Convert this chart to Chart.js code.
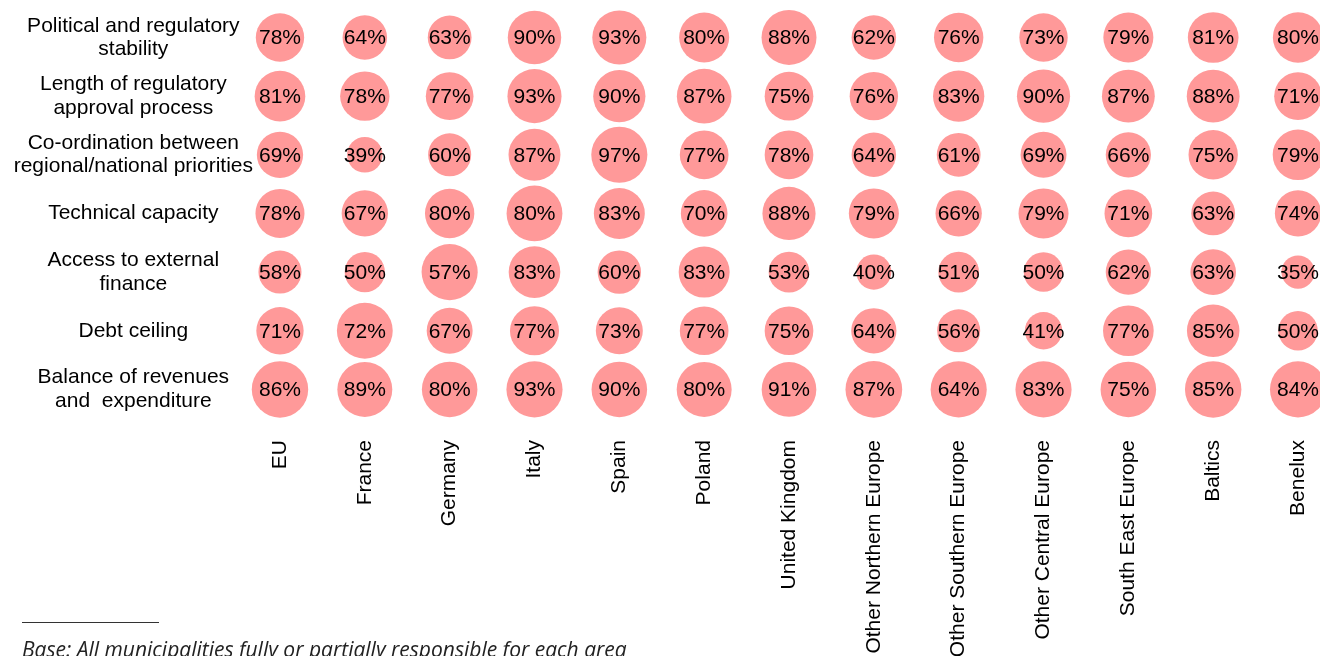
<!DOCTYPE html>
<html>
<head>
<meta charset="utf-8">
<title>Factors by region</title>
<script src="https://cdn.jsdelivr.net/npm/chart.js@4.4.1/dist/chart.umd.min.js"></script>
<style>
  html, body { margin: 0; padding: 0; background: #fff; overflow: hidden; }
  #wrap { position: relative; width: 1320px; height: 656px; overflow: hidden; }
  .rule { position: absolute; left: 22px; top: 622px; width: 137px; border-top: 1px solid #333; }
  .base { position: absolute; left: 22px; top: 639px; margin: 0; white-space: nowrap;
          font: italic 21px/21px "Open Sans", sans-serif; color: #222; }
</style>
</head>
<body>
<div id="wrap">
  <canvas id="chart"></canvas>
  <div class="rule"></div>
  <p class="base">Base: All municipalities fully or partially responsible for each area</p>
</div>
<script>
const regions = ["EU", "France", "Germany", "Italy", "Spain", "Poland", "United Kingdom",
  "Other Northern Europe", "Other Southern Europe", "Other Central Europe",
  "South East Europe", "Baltics", "Benelux"];

const factors = [
  ["Political and regulatory", "stability"],
  ["Length of regulatory", "approval process"],
  ["Co-ordination between", "regional/national priorities"],
  "Technical capacity",
  ["Access to external", "finance"],
  "Debt ceiling",
  ["Balance of revenues", "and  expenditure"]
];

// % shown in each bubble, one array per factor (row), in region order
const political = [78, 64, 63, 90, 93, 80, 88, 62, 76, 73, 79, 81, 80];
const approval  = [81, 78, 77, 93, 90, 87, 75, 76, 83, 90, 87, 88, 71];
const coord     = [69, 39, 60, 87, 97, 77, 78, 64, 61, 69, 66, 75, 79];
const technical = [78, 67, 80, 80, 83, 70, 88, 79, 66, 79, 71, 63, 74];
const finance   = [58, 50, 57, 83, 60, 83, 53, 40, 51, 50, 62, 63, 35];
const debt      = [71, 72, 67, 77, 73, 77, 75, 64, 56, 41, 77, 85, 50];
const balance   = [86, 89, 80, 93, 90, 80, 91, 87, 64, 83, 75, 85, 84];

// relative base behind each bubble (bubble area, largest = 100)
const politicalBase = [72, 61, 59, 88, 90, 77, 93, 61, 75, 72, 77, 79, 78];
const approvalBase  = [79, 75, 70, 90, 84, 92, 73, 72, 81, 87, 86, 86, 70];
const coordBase     = [66, 39, 57, 83, 97, 73, 73, 61, 59, 65, 63, 75, 79];
const technicalBase = [74, 66, 75, 96, 80, 67, 87, 77, 66, 77, 70, 59, 66];
const financeBase   = [57, 50, 97, 82, 58, 80, 51, 38, 51, 48, 63, 64, 34];
const debtBase      = [69, 96, 65, 74, 68, 73, 73, 63, 57, 43, 79, 85, 48];
const balanceBase   = [98, 93, 95, 97, 95, 93, 92, 99, 97, 97, 95, 98, 97];

const shares = [political, approval, coord, technical, finance, debt, balance];
const bases = [politicalBase, approvalBase, coordBase, technicalBase, financeBase, debtBase, balanceBase];

const FONT = 'Arial, "Liberation Sans", sans-serif';
const MAX_R = 28.5;
const bubbleR = base => MAX_R * Math.sqrt(base / 100);

const datasets = shares.map((row, r) => ({
  label: Array.isArray(factors[r]) ? factors[r].join(' ') : factors[r],
  data: row.map((v, c) => ({ x: c, y: r, r: bubbleR(bases[r][c]), v: v })),
  backgroundColor: '#FF9999',
  borderWidth: 0,
  hoverBorderWidth: 0,
  clip: false
}));

// percentage text inside the bubbles
const bubbleText = {
  id: 'bubbleText',
  afterDatasetsDraw(chart) {
    const ctx = chart.ctx;
    ctx.save();
    ctx.font = '21px ' + FONT;
    ctx.fillStyle = '#000';
    ctx.textAlign = 'center';
    ctx.textBaseline = 'middle';
    chart.data.datasets.forEach((ds, i) => {
      chart.getDatasetMeta(i).data.forEach((pt, j) => {
        ctx.fillText(ds.data[j].v + '%', pt.x, pt.y + 1);
      });
    });
    ctx.restore();
  }
};

// the plot runs to the top and right edge of the canvas (bubbles get cut there),
// so drop the room Chart.js keeps for the outer tick labels
const fullBleed = {
  id: 'fullBleed',
  afterLayout(chart) {
    const {x, y} = chart.scales;
    const area = chart.chartArea;
    area.top = y.top = 0;
    area.right = x.right = chart.width;
    area.width = area.right - area.left;
    area.height = area.bottom - area.top;
    x.width = x.right - x.left;
    y.height = y.bottom - y.top;
    x.configure();
    y.configure();
  }
};

new Chart(document.getElementById('chart'), {
  type: 'bubble',
  data: { datasets: datasets },
  options: {
    responsive: true,
    maintainAspectRatio: false,
    animation: false,
    events: [],
    layout: { padding: 0 },
    plugins: {
      legend: { display: false },
      tooltip: { enabled: false }
    },
    scales: {
      x: {
        type: 'linear',
        min: -0.318,
        max: 12.259,
        afterBuildTicks: s => { s.ticks = regions.map((_, i) => ({ value: i })); },
        afterFit: s => { s.height = 224; },
        grid: { display: false, drawTicks: false },
        border: { display: false },
        ticks: {
          autoSkip: false,
          minRotation: 90,
          maxRotation: 90,
          padding: 8,
          color: '#000',
          font: { family: FONT, size: 21 },
          callback: (v, i) => regions[i]
        }
      },
      y: {
        type: 'linear',
        reverse: true,
        min: -0.639,
        max: 6.726,
        afterBuildTicks: s => { s.ticks = factors.map((_, i) => ({ value: i })); },
        afterFit: s => { s.width = 253; },
        grid: { display: false, drawTicks: false },
        border: { display: false },
        ticks: {
          crossAlign: 'center',
          padding: 0,
          color: '#000',
          font: { family: FONT, size: 21, lineHeight: 1.12 },
          callback: (v, i) => factors[i]
        }
      }
    }
  },
  plugins: [fullBleed, bubbleText]
});
</script>
</body>
</html>
